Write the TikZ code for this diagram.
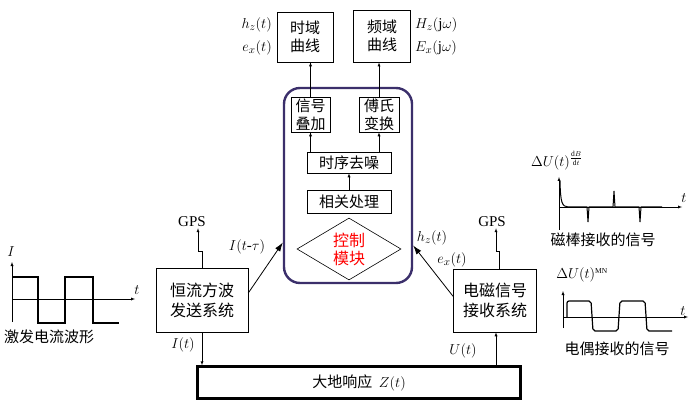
\documentclass[tikz,border=0pt]{standalone}
\usepackage{fontspec}
\setmainfont{Liberation Serif}
\newfontfamily\cjk{Noto Sans CJK SC}
\usetikzlibrary{shapes.geometric, arrows.meta}
\definecolor{corecol}{HTML}{3B2F6B}

\begin{document}
\begin{tikzpicture}[>=latex, x=1pt, y=-1pt,
  blk/.style={draw, semithick, align=center, inner sep=0pt, font=\cjk\fontsize{15}{18}\selectfont},
  lbl/.style={font=\fontsize{15}{18}\selectfont, inner sep=1pt},
  captxt/.style={font=\cjk\fontsize{15}{18}\selectfont, inner sep=0pt},
  wave/.style={line width=1.5pt}]
  \useasboundingbox (0,0) rectangle (700,411);
  % output boxes
  \node (tbox) [blk, minimum width=56pt, minimum height=50pt] at (305,37) {时域\\曲线};
  \node (fbox) [blk, thick, minimum width=57pt, minimum height=52pt] at (382,36) {频域\\曲线};
  \node (hzt) [lbl, anchor=east] at (273,25) {$h_z(t)$};
  \node (ext) [lbl, anchor=east] at (273,48) {$e_x(t)$};
  \node (Hzw) [lbl, anchor=west] at (414,25) {$H_z(\mathrm{j}\omega)$};
  \node (Exw) [lbl, anchor=west] at (414,48) {$E_x(\mathrm{j}\omega)$};
  % processing unit
  \node (core) [draw=corecol, line width=2.4pt, rounded corners=16pt, minimum width=128pt, minimum height=195pt] at (348,185.5) {};
  \node (sum) [blk, minimum width=39pt, minimum height=35pt] at (310.5,114.5) {信号\\叠加};
  \node (four) [blk, minimum width=40pt, minimum height=35pt] at (379,114.5) {傅氏\\变换};
  \node (denoise) [blk, minimum width=84pt, minimum height=21pt] at (349,162.5) {时序去噪};
  \node (corr) [blk, minimum width=84pt, minimum height=23pt] at (349,201.5) {相关处理};
  \node (ctl) [blk, diamond, aspect=1.68, minimum width=104pt, minimum height=62pt, text=red, font=\cjk\fontsize{16}{18}\selectfont] at (349,249) {控制\\模块};
  \draw[->] (sum.north) -- (sum.north |- tbox.south);
  \draw[->] (four.north) -- (four.north |- fbox.south);
  \draw[->] (sum.south |- denoise.north) -- (sum.south);
  \draw[->] (four.south |- denoise.north) -- (four.south);
  \draw[->] (corr.north) -- (denoise.south);
  % transmitter and receiver
  \node (tx) [blk, minimum width=92pt, minimum height=64pt, font=\cjk\fontsize{16}{20}\selectfont] at (202,300) {恒流方波\\发送系统};
  \node (rx) [blk, minimum width=83pt, minimum height=63pt, font=\cjk\fontsize{16}{20}\selectfont] at (495,300.5) {电磁信号\\接收系统};
  \node (earth) [blk, line width=2.5pt, minimum width=323pt, minimum height=32pt] at (359,382.5) {大地响应\ \ $Z(t)$};
  \node (gpsl) [lbl] at (192,222) {GPS};
  \node (gpsr) [lbl] at (492,222) {GPS};
  \draw[->] (tx.north) -- ++(0,-16) -- ++(-4,0) -- ([xshift=6pt]gpsl.south);
  \draw[->] ([xshift=4pt]rx.north) -- ++(0,-17) -- ++(-3,0) -- ([xshift=4pt]gpsr.south);
  \draw[-{Latex[length=9pt,width=6pt]}, thick] ([yshift=7pt]tx.east) -- ([yshift=-57pt]core.west);
  \draw[-{Latex[length=9pt,width=6pt]}, thick] ([yshift=4pt]rx.west) -- ([yshift=-60pt]core.east);
  \node (itau) [lbl] at (247,247) {$I(t$-$\tau)$};
  \node (hzr) [lbl] at (432,238) {$h_z(t)$};
  \node (exr) [lbl] at (452,260) {$e_x(t)$};
  \draw[->] (tx.south) -- (tx.south |- earth.north);
  \draw[->] ([xshift=1pt]rx.south |- earth.north) -- ([xshift=1pt]rx.south);
  \node (It) [lbl] at (183,345) {$I(t)$};
  \node (Ut) [lbl] at (463,351) {$U(t)$};
  % excitation current
  \draw[->] (12,322) -- (12,262);
  \draw[->] (12,299) -- (135,299);
  \draw[wave] (12,277) -- (38,277) -- (38,323) -- (65,323) -- (65,277) -- (93,277) -- (93,323) -- (119,323);
  \node (curI) [lbl] at (11,252) {$I$};
  \node (curt) [lbl] at (137,290) {$t$};
  \node (capL) [captxt, anchor=west] at (4,337) {激发电流波形};
  % magnetic rod signal
  \draw[->] (559,230) -- (559,177);
  \draw[->] (559,207) -- (682,207);
  \draw[line width=1pt] (560,181) .. controls (560.5,203) and (562,206.5) .. (568,207) -- (587,207) -- (588,222) -- (589,207) -- (613,207) -- (614,191) -- (615,207) -- (639,207) -- (640,222) -- (641,207) -- (662,207);
  \node (dBl) [lbl] at (557,161) {$\Delta U(t)^{\frac{\mathrm{d}B}{\mathrm{d}t}}$};
  \node (dBt) [lbl] at (684,198) {$t$};
  \node (capR1) [captxt] at (603,240) {磁棒接收的信号};
  % dipole signal
  \draw[->] (563,328) -- (563,291);
  \draw[->] (563,317) -- (688,317);
  \draw[line width=1.2pt, rounded corners=2pt] (567,317) -- (567,301) -- (591,301) -- (593,331) -- (618,331) -- (620,301) -- (645,301) -- (647,331) -- (672,331);
  \node (MNl) [lbl] at (582,275) {$\Delta U(t)^{\scriptscriptstyle\mathrm{MN}}$};
  \node (MNt) [lbl] at (683,311) {$t$};
  \node (capR2) [captxt] at (617,349) {电偶接收的信号};
\end{tikzpicture}
\end{document}
